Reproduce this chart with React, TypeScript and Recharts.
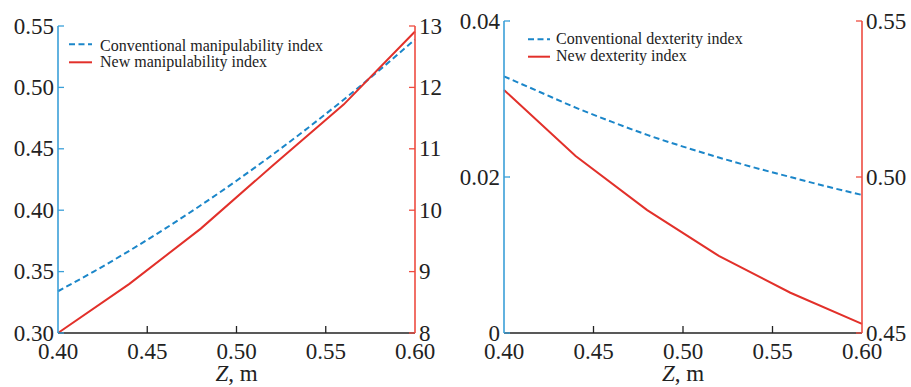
import React from 'react';
import { LineChart, Line, XAxis, YAxis, Legend } from 'recharts';

// ---- data ----
const zFine = [0.4, 0.42, 0.44, 0.46, 0.48, 0.5, 0.52, 0.54, 0.56, 0.58, 0.6];
const zCoarse = [0.4, 0.44, 0.48, 0.52, 0.56, 0.6];
const convManip = [0.334, 0.35, 0.367, 0.385, 0.404, 0.424, 0.445, 0.467, 0.49, 0.514, 0.539];
const newManip = [8.0, 8.8, 9.7, 10.72, 11.72, 12.91];
const convDex = [0.0329, 0.0309, 0.0289, 0.0271, 0.0254, 0.0239, 0.0225, 0.0212, 0.02, 0.0188, 0.0177];
const newDex = [0.5279, 0.5067, 0.4894, 0.4747, 0.4629, 0.4529];

const xTicks = [0.4, 0.45, 0.5, 0.55, 0.6];
const manipLeftTicks = [0.3, 0.35, 0.4, 0.45, 0.5, 0.55];
const manipRightTicks = [8, 9, 10, 11, 12, 13];
const dexLeftTicks = [0, 0.02, 0.04];
const dexRightTicks = [0.45, 0.5, 0.55];

const leftLegend = ['Conventional manipulability index', 'New manipulability index'];
const rightLegend = ['Conventional dexterity index', 'New dexterity index'];

const toPts = (xs: number[], ys: number[]) => xs.map((x, i) => ({ x, y: ys[i] }));

const FONT = "Liberation Serif, Tinos, Times New Roman, DejaVu Serif, Noto Serif, serif";
const BLUE = '#1b86c9';
const RED = '#e2302a';
const BLUE_AXIS = '#3a9fd8';
const RED_AXIS = '#ee4c40';
const TICK_FS = 23;

const fmt2 = (v: number) => v.toFixed(2);
const fmtInt = (v: number) => String(v);
const fmtDex = (v: number) => (v === 0 ? '0' : v.toFixed(2));

const makeXTick = (color: string) => (props: any) => {
  const { x, y, payload } = props;
  const v = payload.value;
  const isEnd = Math.abs(v - 0.4) < 1e-9 || Math.abs(v - 0.6) < 1e-9;
  return (
    <g>
      {!isEnd && <line x1={x} y1={y} x2={x} y2={y - 7} stroke={color} strokeWidth={1.3} />}
      <text x={x} y={y + 25.5} textAnchor="middle" fontSize={TICK_FS} style={{ fontFamily: FONT }} fill="#222">
        {fmt2(v)}
      </text>
    </g>
  );
};

const makeYTick = (side: 'left' | 'right', color: string, fmt: (v: number) => string) => (props: any) => {
  const { x, y, payload } = props;
  const dir = side === 'left' ? 1 : -1;
  return (
    <g>
      <line x1={x} y1={y} x2={x + dir * 6} y2={y} stroke={color} strokeWidth={1.3} />
      <text
        x={side === 'left' ? x - 4 : x + 4}
        y={y + 7.5}
        textAnchor={side === 'left' ? 'end' : 'start'}
        fontSize={TICK_FS}
        style={{ fontFamily: FONT }}
        fill="#222"
      >
        {fmt(payload.value)}
      </text>
    </g>
  );
};

const ZLabel = (props: any) => {
  const vb = props.viewBox || {};
  const cx = (vb.x || 0) + (vb.width || 0) / 2;
  const y = (vb.y || 0) + 48;
  return (
    <text x={cx} y={y} textAnchor="middle" fontSize={TICK_FS} style={{ fontFamily: FONT }} fill="#222">
      <tspan fontStyle="italic">Z</tspan>
      <tspan>, m</tspan>
    </text>
  );
};

const makeLegend = (labels: string[], textX: number, lineLen: number, rows: number[][]) => () => (
  <svg width={320} height={42} style={{ display: 'block' }}>
    <line x1={1} y1={rows[0][0]} x2={1 + lineLen} y2={rows[0][0]} stroke={BLUE} strokeWidth={2} strokeDasharray="6 3.5" />
    <text x={textX} y={rows[0][1]} fontSize={16} style={{ fontFamily: FONT }} fill="#222">
      {labels[0]}
    </text>
    <line x1={1} y1={rows[1][0]} x2={1 + lineLen} y2={rows[1][0]} stroke={RED} strokeWidth={2} />
    <text x={textX} y={rows[1][1]} fontSize={16} style={{ fontFamily: FONT }} fill="#222">
      {labels[1]}
    </text>
  </svg>
);

export default function App() {
  return (
    <div style={{ position: 'absolute', left: 0, top: 0, width: 911, height: 387, background: '#fff', fontFamily: FONT }}>
      <div style={{ position: 'absolute', left: 0, top: 0 }}>
        <LineChart width={460} height={387} margin={{ top: 26, right: 0, bottom: 0, left: 0 }}>
          <XAxis
            dataKey="x"
            type="number"
            domain={[0.4, 0.6]}
            ticks={xTicks}
            interval={0}
            height={54}
            tickSize={0}
            tickMargin={0}
            tickLine={false}
            axisLine={{ stroke: '#222', strokeWidth: 1.5 }}
            tick={makeXTick('#222')}
            label={<ZLabel />}
          />
          <XAxis
            xAxisId="top"
            orientation="top"
            dataKey="x"
            type="number"
            domain={[0.4, 0.6]}
            height={0}
            tick={false}
            tickLine={false}
            axisLine={{ stroke: '#444', strokeWidth: 1.5 }}
          />
          <YAxis
            yAxisId="left"
            orientation="left"
            type="number"
            domain={[0.3, 0.55]}
            ticks={manipLeftTicks}
            interval={0}
            width={58}
            tickSize={0}
            tickMargin={0}
            tickLine={false}
            axisLine={{ stroke: BLUE_AXIS, strokeWidth: 1.6 }}
            tick={makeYTick('left', BLUE_AXIS, fmt2)}
          />
          <YAxis
            yAxisId="right"
            orientation="right"
            type="number"
            domain={[8, 13]}
            ticks={manipRightTicks}
            interval={0}
            width={45}
            tickSize={0}
            tickMargin={0}
            tickLine={false}
            axisLine={{ stroke: RED_AXIS, strokeWidth: 1.6 }}
            tick={makeYTick('right', RED_AXIS, fmtInt)}
          />
          <Line
            yAxisId="left"
            data={toPts(zFine, convManip)}
            dataKey="y"
            type="monotone"
            stroke={BLUE}
            strokeWidth={2}
            strokeDasharray="6 3.5"
            dot={false}
            isAnimationActive={false}
          />
          <Line
            yAxisId="right"
            data={toPts(zCoarse, newManip)}
            dataKey="y"
            type="linear"
            stroke={RED}
            strokeWidth={2}
            dot={false}
            isAnimationActive={false}
          />
          <Legend
            layout="horizontal"
            verticalAlign="middle"
            align="center"
            wrapperStyle={{ position: 'absolute', left: 68, top: 34, width: 320, height: 42 }}
            content={makeLegend(leftLegend, 32, 23, [[10.3, 16.7], [28.3, 32.9]])}
          />
        </LineChart>
      </div>
      <div style={{ position: 'absolute', left: 460, top: 0 }}>
        <LineChart width={451} height={387} margin={{ top: 21, right: 0, bottom: 0, left: 0 }}>
          <XAxis
            dataKey="x"
            type="number"
            domain={[0.4, 0.6]}
            ticks={xTicks}
            interval={0}
            height={54}
            tickSize={0}
            tickMargin={0}
            tickLine={false}
            axisLine={{ stroke: '#222', strokeWidth: 1.5 }}
            tick={makeXTick('#222')}
            label={<ZLabel />}
          />
          <XAxis
            xAxisId="top"
            orientation="top"
            dataKey="x"
            type="number"
            domain={[0.4, 0.6]}
            height={0}
            tick={false}
            tickLine={false}
            axisLine={{ stroke: '#222', strokeWidth: 1.5 }}
          />
          <YAxis
            yAxisId="left"
            orientation="left"
            type="number"
            domain={[0, 0.04]}
            ticks={dexLeftTicks}
            interval={0}
            width={44}
            tickSize={0}
            tickMargin={0}
            tickLine={false}
            axisLine={{ stroke: BLUE_AXIS, strokeWidth: 1.6 }}
            tick={makeYTick('left', BLUE_AXIS, fmtDex)}
          />
          <YAxis
            yAxisId="right"
            orientation="right"
            type="number"
            domain={[0.45, 0.55]}
            ticks={dexRightTicks}
            interval={0}
            width={49}
            tickSize={0}
            tickMargin={0}
            tickLine={false}
            axisLine={{ stroke: RED_AXIS, strokeWidth: 1.6 }}
            tick={makeYTick('right', RED_AXIS, fmt2)}
          />
          <Line
            yAxisId="left"
            data={toPts(zFine, convDex)}
            dataKey="y"
            type="monotone"
            stroke={BLUE}
            strokeWidth={2}
            strokeDasharray="6 3.5"
            dot={false}
            isAnimationActive={false}
          />
          <Line
            yAxisId="right"
            data={toPts(zCoarse, newDex)}
            dataKey="y"
            type="linear"
            stroke={RED}
            strokeWidth={2}
            dot={false}
            isAnimationActive={false}
          />
          <Legend
            layout="horizontal"
            verticalAlign="middle"
            align="center"
            wrapperStyle={{ position: 'absolute', left: 67, top: 29, width: 320, height: 42 }}
            content={makeLegend(rightLegend, 29, 22, [[10.3, 15.3], [27.7, 32]])}
          />
        </LineChart>
      </div>
    </div>
  );
}
